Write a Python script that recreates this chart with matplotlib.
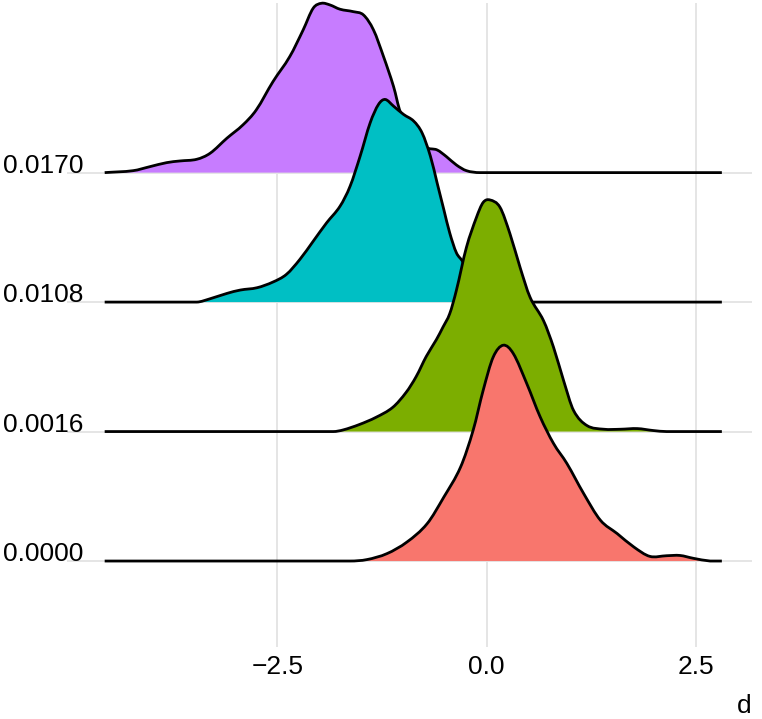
import matplotlib

matplotlib.use("Agg")

from matplotlib import patches, pyplot as plt  # noqa: E402
from matplotlib.path import Path  # noqa: E402
from matplotlib.transforms import blended_transform_factory  # noqa: E402

plt.rcParams["font.family"] = ["Liberation Sans", "DejaVu Sans"]

# ridge categories, bottom to top
categories = ["0.0000", "0.0016", "0.0108", "0.0170"]
colors = ["#F8766D", "#7CAE00", "#00BFC4", "#C77CFF"]

# density outlines (x in d units, height in ridge spacings)
x_0000 = [-4.56, -1.63, -1.43, -1.19, -0.95, -0.71, -0.51, -0.31, -0.16, -0.04,
          0.08, 0.20, 0.32, 0.48, 0.64, 0.80, 0.96, 1.16, 1.36, 1.56, 1.76,
          1.95, 2.15, 2.31, 2.47, 2.67, 2.81]
h_0000 = [0.0, 0.0, 0.011, 0.057, 0.147, 0.288, 0.494, 0.726, 1.010, 1.319,
          1.576, 1.667, 1.602, 1.371, 1.114, 0.908, 0.753, 0.521, 0.315, 0.212,
          0.108, 0.036, 0.041, 0.043, 0.021, 0.0, 0.0]

x_0016 = [-4.56, -1.83, -1.71, -1.52, -1.32, -1.12, -0.96, -0.84, -0.72, -0.60,
          -0.52, -0.44, -0.36, -0.24, -0.12, -0.04, 0.04, 0.16, 0.28, 0.40,
          0.52, 0.68, 0.80, 0.92, 1.04, 1.20, 1.40, 1.60, 1.80, 1.99, 2.15, 2.81]
h_0016 = [0.0, 0.0, 0.013, 0.054, 0.110, 0.187, 0.303, 0.425, 0.580, 0.709,
          0.807, 0.910, 1.091, 1.423, 1.655, 1.770, 1.789, 1.733, 1.527, 1.269,
          1.037, 0.857, 0.651, 0.394, 0.162, 0.046, 0.018, 0.018, 0.023, 0.008,
          0.0, 0.0]

x_0108 = [-4.56, -3.46, -3.30, -3.10, -2.94, -2.74, -2.55, -2.39, -2.23, -2.07,
          -1.91, -1.75, -1.63, -1.51, -1.39, -1.29, -1.21, -1.11, -0.99, -0.87,
          -0.77, -0.67, -0.59, -0.51, -0.44, -0.36, -0.28, -0.20, -0.08, 0.04,
          0.20, 2.81]
h_0108 = [0.0, 0.0, 0.026, 0.067, 0.093, 0.111, 0.155, 0.214, 0.329, 0.470,
          0.612, 0.740, 0.894, 1.126, 1.384, 1.527, 1.565, 1.513, 1.449, 1.398,
          1.307, 1.126, 0.920, 0.714, 0.535, 0.381, 0.307, 0.175, 0.070, 0.020,
          0.0, 0.0]

x_0170 = [-4.56, -4.22, -4.02, -3.82, -3.66, -3.46, -3.30, -3.10, -2.91, -2.75,
          -2.55, -2.35, -2.19, -2.07, -1.97, -1.87, -1.75, -1.59, -1.47, -1.35,
          -1.23, -1.11, -1.03, -0.91, -0.73, -0.59, -0.48, -0.36, -0.24, -0.08,
          2.81]
h_0170 = [0.0, 0.015, 0.046, 0.077, 0.090, 0.103, 0.150, 0.266, 0.368, 0.484,
          0.703, 0.896, 1.102, 1.270, 1.308, 1.295, 1.262, 1.243, 1.218, 1.102,
          0.896, 0.664, 0.470, 0.355, 0.200, 0.175, 0.124, 0.059, 0.015, 0.0,
          0.0]

ridges_x = [x_0000, x_0016, x_0108, x_0170]
ridges_h = [h_0000, h_0016, h_0108, h_0170]

x_ticks = [-2.5, 0.0, 2.5]
x_tick_labels = ["\u22122.5", "0.0", "2.5"]
x_title = "d"


def _smooth_vertices(xs, ys, floor):
    # Catmull-Rom style bezier through the read points; control points are
    # kept above the baseline so flat tails do not dip
    n = len(xs)
    verts = [(xs[0], ys[0])]
    codes = [Path.MOVETO]
    for i in range(n - 1):
        i0 = max(i - 1, 0)
        i3 = min(i + 2, n - 1)
        dx = xs[i + 1] - xs[i]
        t1 = (ys[i + 1] - ys[i0]) / (xs[i + 1] - xs[i0])
        t2 = (ys[i3] - ys[i]) / (xs[i3] - xs[i])
        c1 = (xs[i] + dx / 3, max(floor, ys[i] + t1 * dx / 3))
        c2 = (xs[i + 1] - dx / 3, max(floor, ys[i + 1] - t2 * dx / 3))
        verts += [c1, c2, (xs[i + 1], ys[i + 1])]
        codes += [Path.CURVE4] * 3
    return verts, codes


figure = plt.figure(figsize=(7.62, 7.19), dpi=100)
axis = figure.add_axes([67 / 762, 72 / 719, 685 / 762, 644 / 719])
axis.set_xlim(-5.01, 3.17)
axis.set_ylim(-0.664, 4.31)

grid_color = "#e5e5e5"
for tick in x_ticks:
    axis.axvline(tick, color=grid_color, linewidth=1.4, zorder=0)
for level in range(len(categories)):
    axis.axhline(level, color=grid_color, linewidth=1.4, zorder=0)

# top ridge first so lower ridges sit in front of it
for level in reversed(range(len(categories))):
    xs = ridges_x[level]
    ys = [level + h for h in ridges_h[level]]
    z = 10 + 2 * (len(categories) - level)
    verts, codes = _smooth_vertices(xs, ys, level)

    fill_path = Path(
        verts + [(xs[-1], level), (xs[0], level), (xs[0], ys[0])],
        codes + [Path.LINETO, Path.LINETO, Path.CLOSEPOLY],
    )
    axis.add_patch(patches.PathPatch(fill_path, facecolor=colors[level],
                                     edgecolor="none", zorder=z, clip_on=False))
    axis.add_patch(patches.PathPatch(Path(verts, codes), facecolor="none",
                                     edgecolor="black", linewidth=2.0,
                                     joinstyle="round", zorder=z + 1,
                                     clip_on=False))

label_transform = blended_transform_factory(figure.transFigure, axis.transData)
for level, label in enumerate(categories):
    axis.text(3 / 762, level, label, transform=label_transform, ha="left",
              va="baseline", fontsize=19, color="black")

axis.set_xticks(x_ticks, x_tick_labels)
axis.set_yticks([])
axis.tick_params(axis="x", length=0, pad=6, labelsize=19, labelcolor="black")
for spine in axis.spines.values():
    spine.set_visible(False)

figure.text(752 / 762, 1 / 719, x_title, ha="right", va="bottom", fontsize=19)

figure.savefig("out.png", dpi=100)
plt.close(figure)
